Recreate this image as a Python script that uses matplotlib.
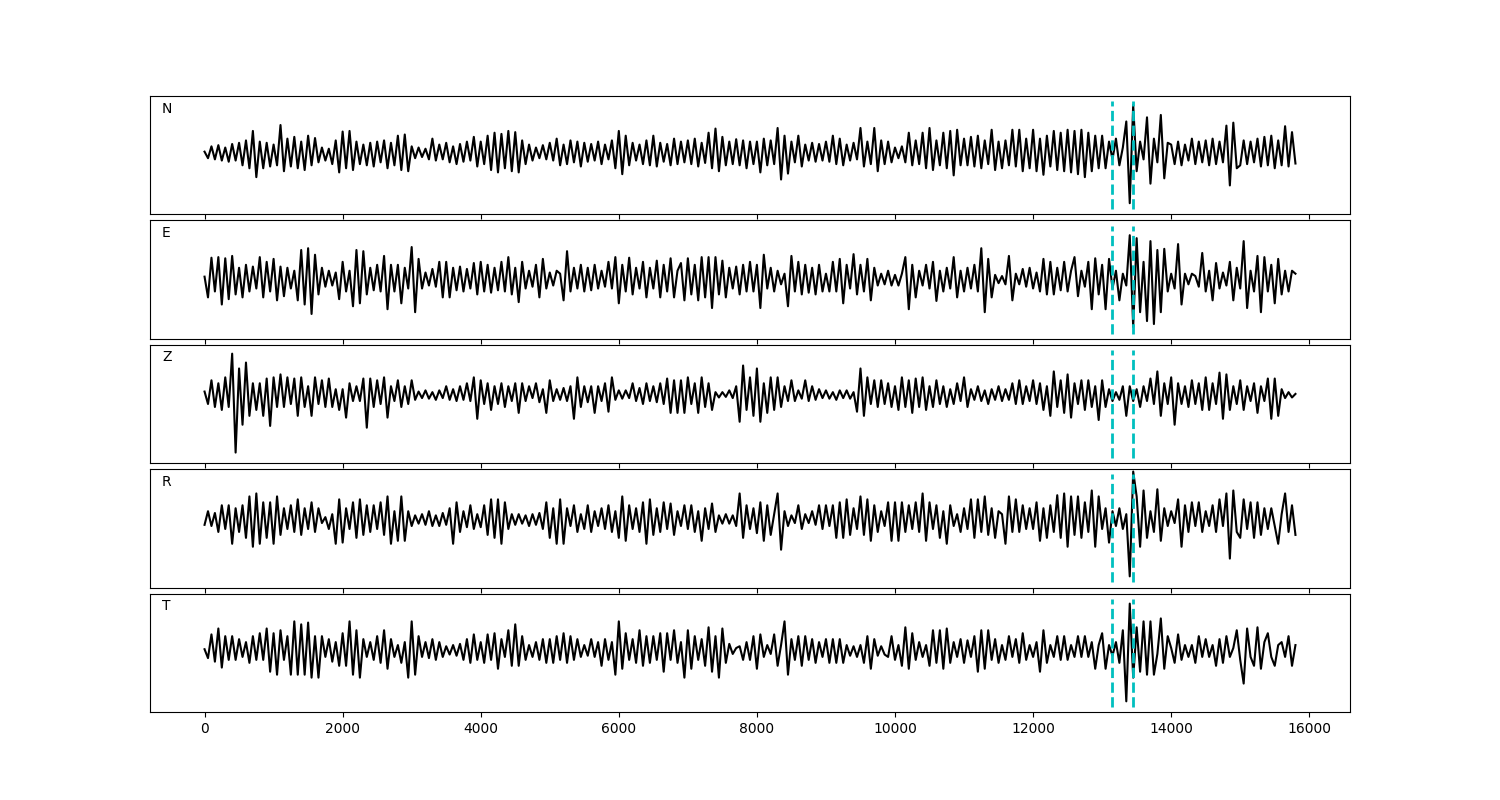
import numpy as np
import matplotlib.pyplot as plt

# waveform extrema (percent of half panel height), one value every 50 samples
n_samples = 15800
components = ["N", "E", "Z", "R", "T"]
picks = [13150, 13450]

n_trace = [
    3, -8, 12, -10, 14, -12, 10, -14, 16, -12, 18, -20, 22, -25, 38, -40, 20, -25, 18, -22,
    15, -20, 48, -30, 25, -22, 28, -25, 20, -28, 30, -20, 26, -15, 10, -12, 8, -18, 22, -32,
    37, -25, 38, -28, 20, -18, 15, -20, 18, -22, 20, -15, 22, -25, 18, -20, 30, -28, 32, -30,
    12, -8, 10, -6, 8, -10, 25, -12, 15, -10, 18, -15, 12, -18, 16, -14, 20, -12, 28, -22,
    20, -18, 30, -28, 35, -32, 33, -25, 38, -30, 36, -32, 22, -18, 15, -12, 10, -8, 14, -10,
    18, -12, 25, -20, 15, -18, 22, -15, 20, -22, 18, -14, 16, -12, 20, -18, 15, -10, 22, -25,
    38, -35, 30, -20, 18, -12, 15, -18, 22, -20, 30, -22, 18, -14, 16, -20, 25, -18, 20, -15,
    22, -18, 25, -22, 18, -16, 35, -25, 42, -30, 28, -20, 20, -18, 24, -20, 22, -25, 20, -18,
    20, -32, 25, -20, 22, -18, 43, -44, 30, -34, 20, -15, 30, -22, 15, -12, 18, -14, 16, -12,
    20, -14, 30, -18, 25, -20, 15, -12, 18, -10, 43, -22, 20, -18, 43, -30, 22, -18, 20, -15,
    10, -8, 12, -15, 35, -20, 22, -18, 35, -25, 43, -28, 22, -20, 35, -25, 38, -37, 40, -20,
    25, -20, 28, -22, 30, -25, 22, -18, 40, -28, 20, -25, 22, -20, 40, -22, 40, -30, 25, -25,
    40, -30, 25, -36, 30, -22, 38, -28, 35, -30, 40, -32, 38, -35, 40, -40, 35, -30, 30, -25,
    30, -25, 20, -10, 25, -20, 10, 54, -84, 82, -30, 20, -10, 61, -51, 25, -15, 65, -42, 18,
    15, -18, 20, -20, 15, -12, 25, -18, 20, -15, 22, -20, 25, -18, 20, -15, 47, -54, 52, -25,
    -20, 22, -18, 20, -15, 25, -22, 28, -20, 30, -25, 22, -20, 46, -22, 36, -17,
]

e_trace = [
    5, -30, 37, -20, 38, -42, 36, -33, 40, -25, 20, -30, 25, -20, 22, -15, 38, -30, 30, -20,
    35, -35, 22, -28, 20, -15, 15, -35, 50, -42, 53, -58, 42, -25, 20, -12, 15, -10, 12, -33,
    30, -20, 15, -45, 50, -40, 48, -25, 20, -18, 25, -20, 40, -50, 25, -20, 25, -40, 20, -15,
    55, -55, 35, -15, 12, -10, 18, -12, 30, -30, 30, -30, 20, -18, 22, -20, 18, -15, 28, -25,
    30, -20, 25, -22, 20, -18, 30, -20, 38, -25, 20, -38, 30, -15, 15, -12, 25, -30, 35, -15,
    12, -10, 15, 10, -35, 48, -20, 20, -15, 25, -20, 20, -18, 25, -15, 15, -12, 30, -15, 38,
    -40, 25, -20, 37, -25, 20, -15, 30, -30, 20, -15, 32, -30, 25, -20, 36, -30, 15, 28, -35,
    36, -25, 25, -35, 38, -30, 38, -48, 38, -25, 32, -30, 20, -15, 22, -25, 25, -20, 30, -20,
    25, -48, 42, -15, 20, -20, 15, -8, 10, -45, 40, -20, 30, -25, 25, -22, 20, -25, 25, -20,
    10, -20, 30, -20, 35, -40, 25, -15, 43, -25, 25, -20, 35, -35, 20, -10, 10, -8, 15, -10,
    8, -10, 10, 38, -50, 25, -30, 15, -10, 25, -15, 30, -36, 15, -20, 20, -15, 38, -30, 15,
    -20, 20, -15, 25, -20, 53, -55, 35, -30, 8, -6, 6, -8, 40, -35, 10, -8, 18, -12, 20,
    -15, 12, -20, 35, -25, 30, -25, 20, -18, 30, -20, 15, 38, -28, 15, -12, 30, -50, 36, -25,
    25, -50, 35, -15, 15, -35, 10, -10, 75, -80, 70, -55, 30, -70, 65, -75, 50, -55, 52, -20,
    10, -15, 60, -42, 10, -8, 10, 6, -12, 45, -20, 15, -35, 28, -15, 12, -10, 30, -35, 20,
    -15, 65, -48, 15, -20, 40, -55, 38, -20, 25, -40, 35, -25, 15, -20, 15, 10,
]

z_trace = [
    6, -15, 25, -20, 20, -25, 30, -20, 70, -97, 45, -50, 55, -35, 20, -25, 20, -35, 28, -52,
    30, -20, 35, -20, 30, -15, 28, -35, 30, -20, 15, -35, 30, -15, 25, -20, 28, -20, 10, -25,
    10, -38, 20, -10, 15, -10, 28, -55, 28, -20, 25, -15, 30, -38, 15, -10, 25, -20, 15, -15,
    25, -8, 6, -5, 8, -6, 5, -8, 8, -5, 15, -8, 10, -10, 15, -8, 20, -10, 30, -40,
    25, -15, 20, -25, 15, -15, 20, -20, 15, -10, 20, -30, 20, -10, 15, -5, 20, -12, 10, -30,
    25, -10, 10, -8, 12, -10, 15, -40, 30, -20, 15, -12, 15, -30, 15, -10, 20, -28, 30, -8,
    8, -6, 8, -5, 20, -10, 12, -15, 20, -10, 15, -12, 20, -15, 28, -30, 25, -30, 25, -30,
    30, -15, 20, -30, 30, -20, 20, -25, 5, -4, 5, -3, 8, -5, 15, -45, 50, -25, 30, -35,
    45, -45, 20, -30, 30, -25, 30, -20, 15, -10, 25, -10, 8, -6, 25, -10, 15, -8, 10, -5,
    8, -6, 5, -8, 8, -5, 8, -6, 5, -28, 45, -35, 30, -15, 25, -20, 25, -15, 20, -20,
    15, -25, 30, -20, 25, -30, 28, -20, 30, -25, 15, -20, 25, -15, 15, -20, 10, -15, 20, -10,
    30, -20, 10, -8, 15, -10, 8, -15, 10, -8, 15, -10, 10, -8, 20, -15, 25, -15, 15, -10,
    25, -15, 20, -25, 15, -35, 40, -20, 25, -30, 35, -38, 20, -15, 25, -25, 25, -20, 15, -42,
    25, -20, 10, -10, 5, -8, 15, -35, 15, -10, 10, -20, 15, -10, 28, -15, 40, -35, 20, -15,
    30, -50, 20, -15, 15, -20, 25, -15, 20, -25, 30, -25, 20, -15, 38, -40, 35, -25, 15, -15,
    25, -25, 15, -10, 20, -30, 15, -10, 28, -40, 28, -35, 10, -5, 5, -4, 2,
]

r_trace = [
    -8, 15, -10, 12, -20, 25, -15, 25, -40, 20, -20, 25, -30, 40, -45, 45, -40, 30, -30, 30,
    -40, 40, -25, 20, -15, 25, -20, 35, -25, 20, -15, 30, -20, 20, -5, 5, -15, 10, -40, 35,
    -38, 20, -15, 30, -30, 35, -25, 25, -20, 25, -15, 30, -25, 40, -40, 15, -35, 40, -35, 15,
    -10, 8, -6, 10, -8, 15, -10, 8, -10, 12, -8, 20, -40, 30, -20, 15, -12, 25, -15, 10,
    -12, 25, -25, 35, -30, 35, -40, 30, -15, 10, -8, 10, -6, 8, -10, 10, -8, 12, -15, 30,
    -30, 20, -40, 35, -40, 20, -10, 25, -20, 10, -15, 25, -20, 15, -10, 20, -15, 25, -20, 15,
    -30, 40, -35, 25, -15, 20, -20, 30, -40, 35, -25, 20, -20, 30, -15, 28, -25, 15, -10, 25,
    -15, 25, -20, 15, -35, 20, -15, 28, -20, 8, -6, 10, -6, 8, -10, 45, -30, 25, -15, 20,
    -22, 30, -35, 25, -25, 10, 45, -50, 15, -10, 8, -5, 25, -15, 10, -5, 15, -8, 25, -15,
    25, -10, 25, -30, 30, -30, 35, -25, 20, -15, 40, -25, 35, -35, 25, -20, 15, -10, 30, -35,
    30, -35, 30, -20, 25, -15, 30, -20, 45, -35, 30, -15, 25, -30, 15, -40, 25, -10, 10, -20,
    20, -15, 35, -30, 35, -20, 40, -25, 20, -30, 15, 10, -40, 40, -20, 35, -20, 25, -15, 20,
    -15, 30, -35, 20, -30, 25, -20, 42, -30, 45, -45, 40, -25, 40, -30, 30, -20, 50, -45, 40,
    -15, 20, -38, 15, -10, 20, -15, 10, -95, 82, 40, -45, 50, -30, 15, -20, 52, -35, 20, -10,
    15, -5, 35, -45, 25, -20, 30, -10, 30, -20, 15, -10, 25, -20, 35, -10, 45, -65, 50, -20,
    -30, 35, -15, 30, -30, 30, -25, 20, -15, 20, -10, -40, 10, 45, -20, 25, -25,
]

t_trace = [
    3, -12, 28, -18, 38, -28, 25, -15, 25, -15, 20, -10, 15, -20, 25, -15, 30, -15, 38, -35,
    30, -40, 35, -15, 25, -40, 50, -40, 45, -40, 48, -45, 25, -45, 25, -10, 20, -18, 15, -25,
    30, -25, 50, -40, 35, -45, 20, -10, 15, -15, 25, -20, 35, -30, 20, -10, 10, -20, 15, -45,
    50, -40, 25, -10, 15, -12, 20, -15, 15, -10, 8, -6, 10, -8, 12, -15, 20, -20, 28, -15,
    15, -20, 28, -15, 30, -30, 20, -10, 35, -25, 45, -25, 25, -15, 10, -10, 15, -15, 20, -20,
    20, -20, 25, -15, 30, -20, 25, -15, 20, -10, 10, -8, 20, -10, 15, -25, 20, -15, 15, -40,
    50, -30, 30, -15, 20, -20, 35, -25, 25, -20, 25, -15, 30, -35, 30, -15, 35, -20, 15, -45,
    35, -30, 25, -15, 20, -25, 40, -35, 25, -45, 38, -20, 12, -5, 5, 8, -15, 15, -15, 25,
    -30, 28, -10, 10, -5, 28, -25, 10, 50, -40, 20, -15, 25, -25, 25, -15, 20, -20, 15, -10,
    20, -20, 20, -20, 20, -20, 10, -8, 8, -10, 10, -20, 25, -30, 20, -8, 8, -6, -10, 25,
    -15, 10, -25, 40, -30, 30, -15, 15, -10, 10, -25, 35, -20, 35, -30, 38, -20, 15, -10, 20,
    -20, 18, -10, 25, -35, 35, -30, 35, -15, 20, -20, 10, -15, 25, -10, 20, -20, 30, -15, 10,
    -10, 15, -35, 35, -20, 10, -10, 25, -15, 25, -15, 10, -10, 25, -10, 25, -10, 15, -30, 10,
    30, -30, 10, -8, 15, -20, 35, -85, 80, -45, 40, -35, 50, -40, 50, -40, -5, 55, -30, 25,
    5, -20, 28, -15, 10, -10, 10, -20, 25, -10, 20, -10, 10, -25, 20, -20, 25, -10, 5, 35,
    -15, -55, 38, -10, -25, 40, -30, 15, 30, -10, -25, 10, 15, -10, 25, -25, 10,
]

traces = [n_trace, e_trace, z_trace, r_trace, t_trace]
# how far each trace's zero line sits above the panel centre
baseline_shift = [3, 0, 15, 14, 3]

fig, axes = plt.subplots(5, 1, figsize=(15, 8), sharex=True)
plt.subplots_adjust(left=0.1, right=0.9, top=0.88, bottom=0.11, hspace=0.05)

for ax, name, tr, off in zip(axes, components, traces, baseline_shift):
    y = np.array(tr, dtype=float)
    x = np.linspace(0, n_samples, len(y))
    ax.plot(x, y, color='k', lw=1.5)
    for p in picks:
        ax.axvline(p, ymin=0.045, ymax=0.955, color='c', ls='--', lw=2)
    ax.set_ylim(-100 - off, 100 - off)
    ax.set_yticks([])
    ax.text(0.01, 0.86, name, transform=ax.transAxes)

plt.savefig("out.png", dpi=100)
